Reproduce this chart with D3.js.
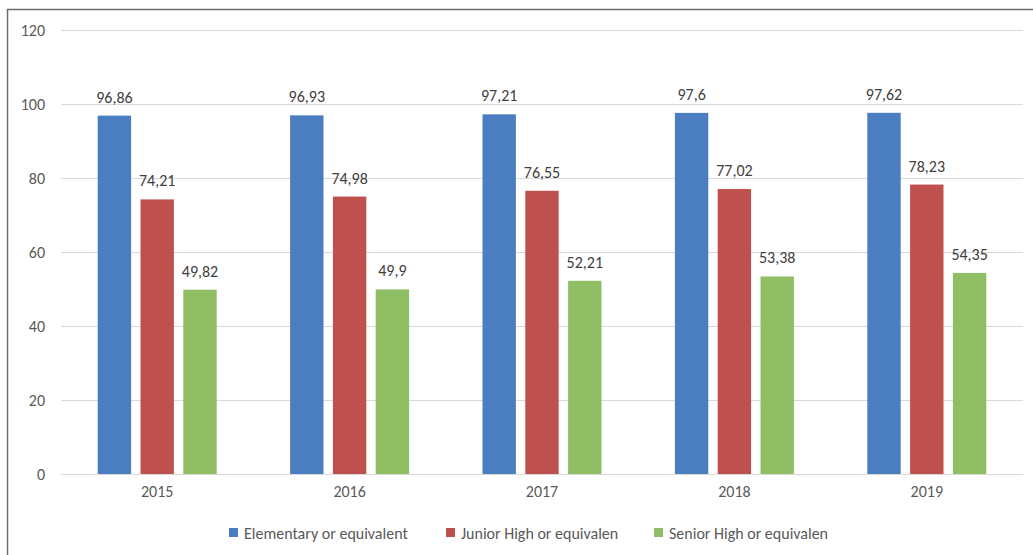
<!DOCTYPE html>
<html><head><meta charset="utf-8">
<script src="https://cdn.jsdelivr.net/npm/d3@7"></script>
<style>
html,body{margin:0;padding:0;background:#fff;}
svg{display:block;font-family:Carlito, Lato, "Open Sans", sans-serif;}
</style></head>
<body><svg id="c" width="1033" height="555"></svg>
<script>
const years = ["2015","2016","2017","2018","2019"];
const seriesNames = ["Elementary or equivalent","Junior High or equivalen","Senior High or equivalen"];
const elementary = [96.86,96.93,97.21,97.6,97.62];
const juniorHigh = [74.21,74.98,76.55,77.02,78.23];
const seniorHigh = [49.82,49.9,52.21,53.38,54.35];
const yTicks = [0,20,40,60,80,100,120];
const colors = ["#4A7EC1","#BE504D","#8FBE64"];

(function(){
const series = [elementary, juniorHigh, seniorHigh];
const svg = d3.select("#c");
const W = 1033, H = 555;
const pl = 61, pr = 1023, pt = 30, pb = 474;
const FS = "16px";

svg.append("line").attr("x1",7.5).attr("x2",7.5).attr("y1",9).attr("y2",H).attr("stroke","#6e6e6e").attr("stroke-width",1.5);
svg.append("line").attr("x1",7).attr("x2",W).attr("y1",9.5).attr("y2",9.5).attr("stroke","#6e6e6e").attr("stroke-width",1.5);

const x = d3.scaleBand().domain(years).range([pl,pr]);
const xi = d3.scaleBand().domain(d3.range(3)).range([0,119]).paddingInner(0.22);
const y = d3.scaleLinear().domain([0,120]).range([pb,pt]);

const g = svg.append("g");
g.selectAll("line.grid").data(yTicks).enter().append("line")
  .attr("x1",pl).attr("x2",pr)
  .attr("y1",d=>Math.round(y(d))+0.5).attr("y2",d=>Math.round(y(d))+0.5)
  .attr("stroke","#d9d9d9").attr("stroke-width",1);

const yAxis = d3.axisLeft(y).tickValues(yTicks).tickSize(0).tickPadding(0);
const ya = svg.append("g").attr("transform",`translate(45,0)`).call(yAxis);
ya.select(".domain").remove();
ya.selectAll("text").attr("fill","#595959").attr("font-size",FS).attr("font-family","Carlito, Lato, sans-serif");

const xAxis = d3.axisBottom(x).tickSize(0).tickPadding(0);
const xa = svg.append("g").attr("transform",`translate(0,${pb+12})`).call(xAxis);
xa.select(".domain").remove();
xa.selectAll("text").attr("fill","#595959").attr("font-size",FS).attr("font-family","Carlito, Lato, sans-serif");

series.forEach((vals,si)=>{
  const grp = g.append("g");
  grp.selectAll("rect").data(vals).enter().append("rect")
    .attr("x",(d,i)=>x(years[i]) + (x.bandwidth()-119)/2 + xi(si))
    .attr("y",d=>y(d)).attr("width",xi.bandwidth()).attr("height",d=>y(0)-y(d))
    .attr("fill",colors[si]);
  grp.selectAll("text").data(vals).enter().append("text")
    .attr("x",(d,i)=>x(years[i]) + (x.bandwidth()-119)/2 + xi(si) + xi.bandwidth()/2)
    .attr("y",d=>y(d)-13)
    .attr("text-anchor","middle").attr("fill","#404040").attr("font-size",FS)
    .text(d=>String(d).replace(".",","));
});

const legX = [229, 446, 654];
const leg = svg.append("g");
seriesNames.forEach((n,i)=>{
  leg.append("rect").attr("x",legX[i]).attr("y",528).attr("width",9).attr("height",9).attr("fill",colors[i]);
  leg.append("text").attr("x",legX[i]+15).attr("y",538.5).attr("fill","#595959").attr("font-size",FS).text(n);
});
})();
</script></body></html>
